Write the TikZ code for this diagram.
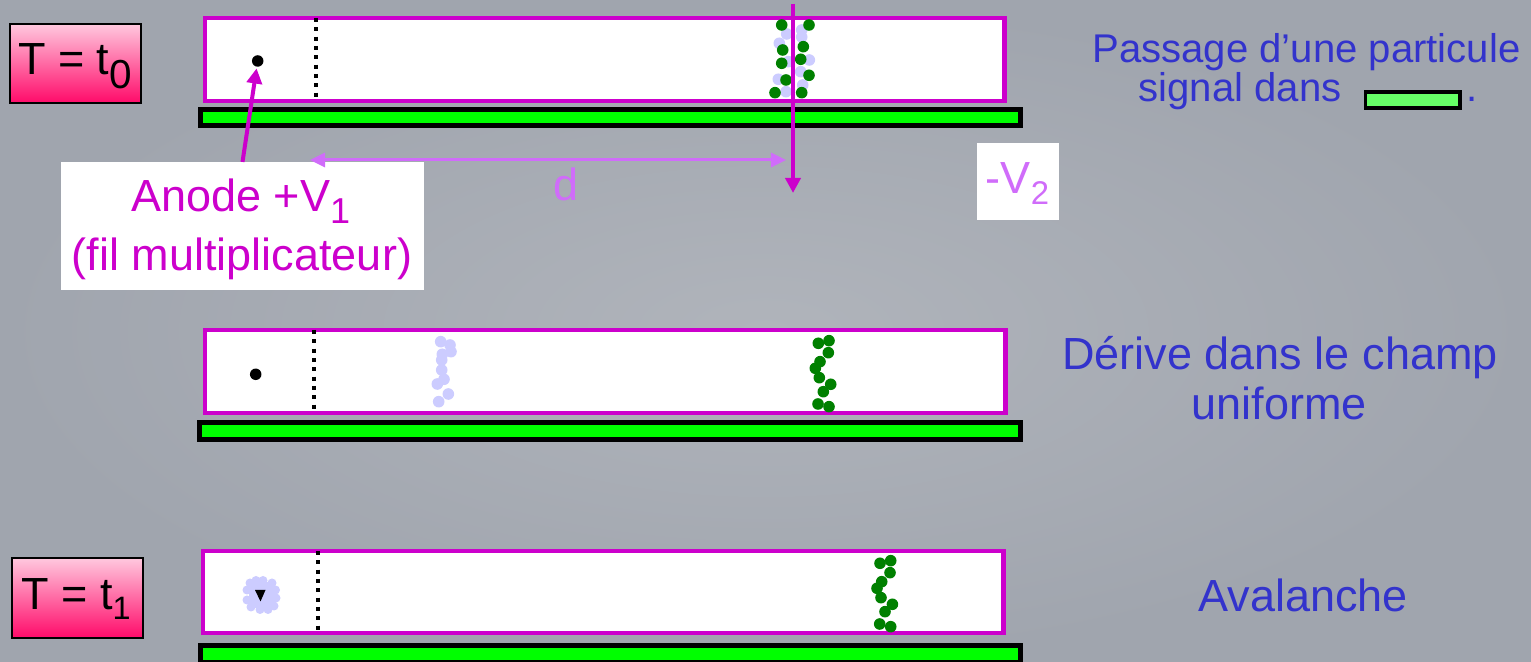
\documentclass[tikz,border=0pt]{standalone}
\usepackage{fontspec}
\setmainfont{Liberation Sans}
\usepackage{graphicx}
\usetikzlibrary{arrows.meta}

\definecolor{bgin}{RGB}{176,180,187}
\definecolor{bgout}{RGB}{160,165,174}
\definecolor{wirepurple}{RGB}{204,0,204}
\definecolor{lilac}{RGB}{208,108,250}
\definecolor{inkblue}{RGB}{51,51,204}
\definecolor{padgreen}{RGB}{0,255,0}
\definecolor{legendgreen}{RGB}{102,255,102}
\definecolor{elecgreen}{RGB}{0,128,0}
\definecolor{ionlav}{RGB}{204,204,255}
\definecolor{pinktop}{RGB}{255,200,222}
\definecolor{pinkbot}{RGB}{255,10,105}

% lowered, scaled index: #1 shift, #2 scale, #3 text
\newcommand\lowered[3]{\raisebox{-#1}{\scalebox{#2}{#3}}}

% electron and ion clouds
\def\trackelectrons{(781.7,25),(809,25),(782.7,50),(803.3,46.7),(781.7,63.3),(800.7,59.3),(786,80),(809,75.3),(775,92.7),(801.7,92.7)}
\def\trackions{(786.7,34),(801.7,30),(801.7,37),(779.3,43.3),(809.3,60),(788.3,61.7),(800.7,71.7),(778.3,79.3),(802.7,85),(786,91.7)}
\def\driftelectrons{(818.3,343.3),(829,340.7),(828.3,352.7),(820,361.7),(815.3,368.3),(819.3,377.7),(830.7,384.3),(823.3,391.7),(818,404),(829,406.7)}
\def\driftions{(440.7,341.7),(450,345),(451,351.7),(442.3,354.3),(441.7,360),(441.7,370),(444,379.3),(437.3,384),(448.3,394),(438.7,401.7)}

\begin{document}
\begin{tikzpicture}[x=0.01cm,y=-0.01cm,
  chamber/.style={draw=wirepurple, line width=1.28pt, fill=white, inner sep=0pt, outer sep=0pt},
  padbar/.style={draw=black, line width=1.42pt, fill=padgreen, inner sep=0pt, outer sep=0pt},
  timebox/.style={draw=black, line width=0.5pt, top color=pinktop, bottom color=pinkbot, inner sep=0pt},
  labelbox/.style={fill=white, inner sep=0pt, outer sep=0pt},
  bigtext/.style={font=\fontsize{12.8pt}{15pt}\selectfont, inner sep=0pt, anchor=base},
  captext/.style={bigtext, text=inkblue},
  smallcap/.style={font=\fontsize{11.4pt}{13.5pt}\selectfont, inner sep=0pt, text=inkblue},
  wiredot/.style={circle, fill=black, inner sep=0pt, minimum size=0.115cm, outer sep=0pt},
  gridline/.style={line width=1.14pt, dash pattern=on 1.14pt off 1.51pt},
  electron/.style={fill=elecgreen},
  ion/.style={fill=ionlav},
  trackarrow/.style={draw=wirepurple, line width=1.14pt, -{Triangle[width=4.3pt,length=4.3pt]}},
  anodearrow/.style={draw=wirepurple, line width=1.14pt, -{Triangle[width=4.3pt,length=4.3pt]}, shorten >=0.5pt},
  distarrow/.style={draw=lilac, line width=0.85pt, {Triangle[width=4pt,length=4.3pt]}-{Triangle[width=4pt,length=4.3pt]}}
]
\useasboundingbox (0,0) rectangle (1531,662);
\shade[inner color=bgin, outer color=bgout] (0,0) rectangle (1531,662);

% ---------- stage 1 : T = t0 ----------
\node[timebox, minimum width=1.31cm, minimum height=0.79cm] (tzero) at (75.5,63.5) {};
\node[bigtext] (tzerotxt) at (75,75) {T = t\lowered{0.29em}{0.9}{0}};

\node[chamber, minimum width=7.99cm, minimum height=0.83cm] (ch1) at (604.5,59.5) {};
\node[padbar, minimum width=8.20cm, minimum height=0.16cm] (pad1) at (610.5,117.5) {};
\draw[gridline] (316,18) -- (316,101);
\node[wiredot] (w1) at (257.7,61) {};
\foreach \p in \trackions {\fill[ion] \p circle[radius=0.58mm];}
\foreach \p in \trackelectrons {\fill[electron] \p circle[radius=0.58mm];}

% particle track
\coordinate (trkin) at (793,4);
\coordinate (trkout) at (793,193);
\draw[trackarrow] (trkin) -- (trkout);

% drift distance
\coordinate (dleft) at (310,160);
\coordinate (dright) at (786,160);
\node[labelbox, minimum width=3.63cm, minimum height=1.28cm] (anodebox) at (242.5,226) {};
\draw[distarrow] (dleft) -- (dright);
\node[bigtext, text=lilac] (dlabel) at (566,201) {d};

\node[bigtext, text=wirepurple] (anodeA) at (240.7,211.7) {Anode +V\lowered{0.26em}{0.8}{1}};
\node[bigtext, text=wirepurple] (anodeB) at (242,270.5) {(fil multiplicateur)};
\draw[anodearrow] (anodebox.north) -- (w1);

\node[labelbox, minimum width=0.82cm, minimum height=0.77cm] (vbox) at (1018,181.5) {};
\node[bigtext, text=lilac] (vlabel) at (1017.5,193.3) {-V\lowered{0.24em}{0.73}{2}};

\node[smallcap, anchor=base] (pass1) at (1306.5,63) {Passage d’une particule};
\node[smallcap, anchor=base west] (pass2) at (1138,101.7) {signal dans};
\node[draw=black, line width=1.1pt, fill=legendgreen, inner sep=0pt,
      minimum width=0.945cm, minimum height=0.165cm] (legend) at (1412.7,100) {};
\node[smallcap, anchor=base west] (pass3) at (1466,101.7) {.};

% ---------- stage 2 : drift ----------
\node[chamber, minimum width=8.00cm, minimum height=0.83cm] (ch2) at (605,371.5) {};
\node[padbar, minimum width=8.21cm, minimum height=0.17cm] (pad2) at (610,431) {};
\draw[gridline] (314,330) -- (314,413);
\node[wiredot] (w2) at (255.7,374.3) {};
\foreach \p in \driftions {\fill[ion] \p circle[radius=0.58mm];}
\foreach \p in \driftelectrons {\fill[electron] \p circle[radius=0.58mm];}

\node[captext] (drift1) at (1280,370) {Dérive dans le champ};
\node[captext] (drift2) at (1279,420) {uniforme};

% ---------- stage 3 : T = t1 ----------
\node[timebox, minimum width=1.31cm, minimum height=0.80cm] (tone) at (77.5,598) {};
\node[bigtext] (tonetxt) at (76,610) {T = t\lowered{0.22em}{0.72}{1}};

\node[chamber, minimum width=8.00cm, minimum height=0.82cm] (ch3) at (603,592) {};
\node[padbar, minimum width=8.20cm, minimum height=0.17cm] (pad3) at (610.5,654) {};
\draw[gridline] (318.3,551) -- (318.3,633);

% avalanche around the wire
\fill[ion] (249,582) rectangle (274,608);
\foreach \p in {(250,583),(256,580.5),(263,580.5),(272,583),(275.5,590),(276,598),(274,606),(268,609.5),(260,609.5),(251,607),(247,600),(247,590)}
  {\fill[ion] \p circle[radius=0.45mm];}
\node[fill=black, inner sep=0pt, outer sep=0pt, minimum size=0pt] (w3) at (260,594) {};
\fill[black] (255,590) -- (265.5,590) -- (260.5,601.5) -- cycle;

\begin{scope}[shift={(61.7,220)}]
  \foreach \p in \driftelectrons {\fill[electron] \p circle[radius=0.58mm];}
\end{scope}

\node[captext] (aval) at (1303,612) {Avalanche};
\end{tikzpicture}
\end{document}
